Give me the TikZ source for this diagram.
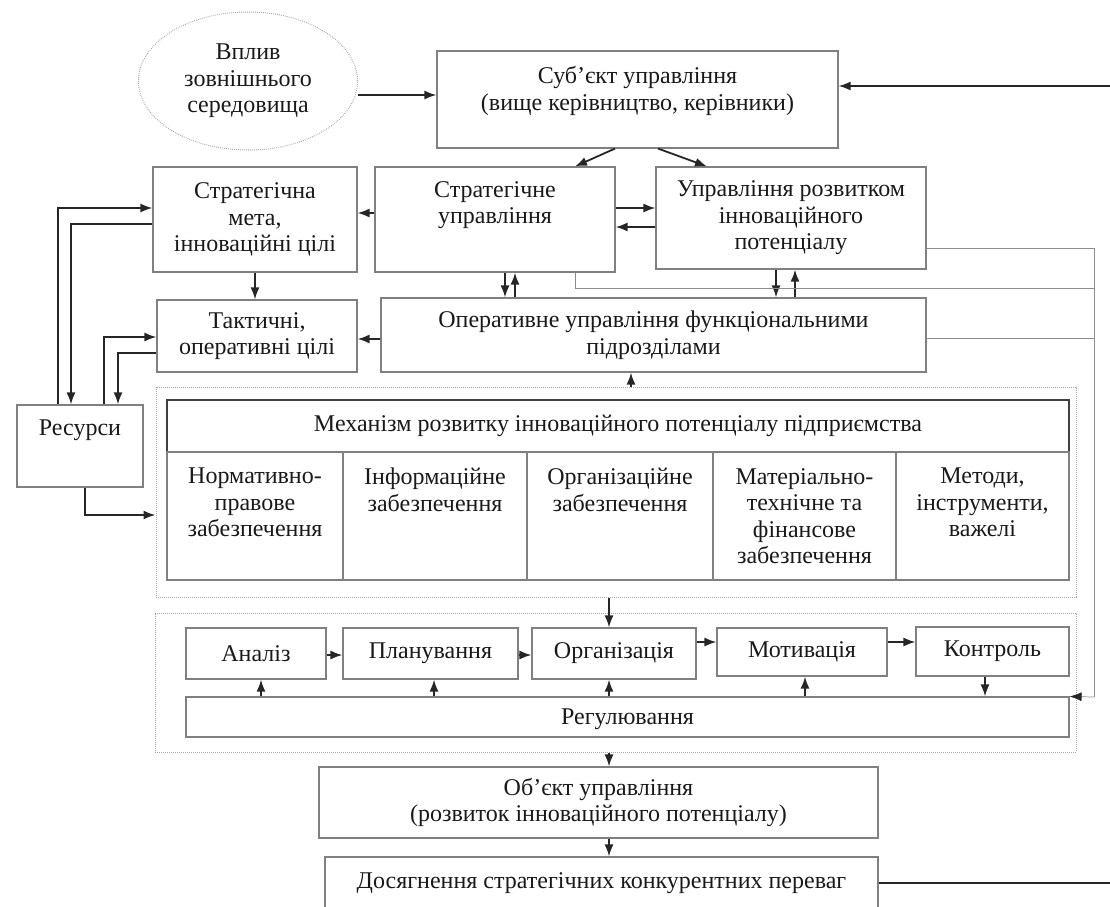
\documentclass[tikz,border=0pt]{standalone}
\usepackage{fontspec}
\setmainfont{Liberation Serif}
\usetikzlibrary{arrows.meta,shapes.geometric}

\begin{document}
\begin{tikzpicture}[x=1pt,y=-1pt,
  font=\fontsize{24}{26.5}\selectfont,
  every node/.style={text=black!90},
  box/.style={draw=black!50,line width=1.1pt,align=center,inner sep=0pt},
  txt/.style={align=center,inner sep=0pt},
  dotbox/.style={draw=black!35,dash pattern=on 0.8pt off 1.2pt,line width=1pt,inner sep=0pt},
  arr/.style={-{Latex[length=12pt,width=9pt]},line width=1.8pt,black!85},
  feed/.style={line width=0.7pt,black!45}]

\clip (0,0) rectangle (1110,906);

\node[ellipse,dotbox,minimum width=219pt,minimum height=138pt,align=center](v1) at (248,81) {Вплив\\зовнішнього\\середовища};

\node[box,minimum width=401pt,minimum height=97pt](v2) at (637.5,99.5) {};
\node[txt](t2) at (637.5,91) {Суб’єкт управління\\(вище керівництво, керівники)};

\node[box,minimum width=204pt,minimum height=105pt](v3) at (255,219.5) {Стратегічна\\мета,\\інноваційні цілі};
\node[box,minimum width=240pt,minimum height=105pt](v4) at (495,219.5) {};
\node[txt](t4) at (495,205) {Стратегічне\\управління};
\node[box,minimum width=270pt,minimum height=102pt](v5) at (791,218) {Управління розвитком\\інноваційного\\потенціалу};

\node[box,minimum width=200pt,minimum height=72pt](v6) at (257,336) {Тактичні,\\оперативні цілі};
\node[box,minimum width=545pt,minimum height=74pt](v7) at (653.5,335) {Оперативне управління функціональними\\підрозділами};

\node[box,minimum width=126pt,minimum height=82pt](v8) at (80,446) {};
\node[txt](t8) at (80,430) {Ресурси};

%MECHANISM
\node[dotbox,minimum width=920pt,minimum height=210pt](v9) at (616,492) {};
\node[box,draw=black!75,line width=1.6pt,minimum width=902pt,minimum height=52pt](v10) at (618,426) {Механізм розвитку інноваційного потенціалу підприємства};

\node[box,minimum width=176pt,minimum height=128pt](v11) at (255,516) {};
\node[box,minimum width=184pt,minimum height=128pt](v12) at (435,516) {};
\node[box,minimum width=186pt,minimum height=128pt](v13) at (620,516) {};
\node[box,minimum width=183pt,minimum height=128pt](v14) at (804.5,516) {};
\node[box,minimum width=173pt,minimum height=128pt](v15) at (982.5,516) {};

\node[txt,anchor=north](t11) at (255,468) {Нормативно-\\правове\\забезпечення};
\node[txt,anchor=north](t12) at (435,468) {Інформаційне\\забезпечення};
\node[txt,anchor=north](t13) at (620,468) {Організаційне\\забезпечення};
\node[txt,anchor=north](t14) at (804.5,468) {Матеріально-\\технічне та\\фінансове\\забезпечення};
\node[txt,anchor=north](t15) at (982.5,468) {Методи,\\інструменти,\\важелі};

%FUNCTIONS
\node[dotbox,minimum width=921pt,minimum height=139pt](v16) at (615.5,682.5) {};
\node[box,minimum width=140pt,minimum height=51pt](v17) at (256,653.5) {Аналіз};
\node[box,minimum width=175pt,minimum height=51pt](v18) at (430.5,653.5) {Планування};
\node[box,minimum width=164pt,minimum height=51pt](v19) at (614,653.5) {Організація};
\node[box,minimum width=170pt,minimum height=48pt](v20) at (802,652) {Мотивація};
\node[box,minimum width=153pt,minimum height=49pt](v21) at (992.5,651.5) {Контроль};
\node[box,minimum width=883pt,minimum height=40pt,text depth=0pt](v22) at (627.5,717) {Регулювання};

\node[box,minimum width=559pt,minimum height=71pt](v23) at (598.5,802.5) {Об’єкт управління\\(розвиток інноваційного потенціалу)};
\node[box,minimum width=553pt,minimum height=53pt](v24) at (601.5,883.5) {Досягнення стратегічних конкурентних переваг};

\coordinate (c1) at (1110,86);
\coordinate (c2) at (1110,883);
\coordinate (c3) at (1094,248);
\coordinate (c4) at (1094,288);
\coordinate (c5) at (1094,338);
\coordinate (c6) at (1094,697);

\draw[arr] (v1.east |- 0,95) -- (v2.west |- 0,95);
\draw[arr] (c1) -- (v2.east |- c1);
\draw[arr] (v2.south -| 615,0) -- (v4.north -| 575,0);
\draw[arr] (v2.south -| 658,0) -- (v5.north -| 707,0);

\draw[arr] (v4.east |- 0,208) -- (v5.west |- 0,208);
\draw[arr] (v5.west |- 0,227) -- (v4.east |- 0,227);
\draw[arr] (v4.west |- 0,213) -- (v3.east |- 0,213);
\draw[arr] (v3.south) -- (v3.south |- v6.north);

\draw[arr] (v4.south -| 505,0) -- (v7.north -| 505,0);
\draw[arr] (v7.north -| 515,0) -- (v4.south -| 515,0);
\draw[arr] (v5.south -| 776,0) -- (v7.north -| 776,0);
\draw[arr] (v7.north -| 795,0) -- (v5.south -| 795,0);
\draw[arr] (v7.west |- 0,339) -- (v6.east |- 0,339);
\draw[arr] (v9.north -| 631,0) -- (v7.south -| 631,0);

%RESOURCES
\draw[arr] (v8.north -| 58,0) |- (v3.west |- 0,208);
\draw[arr] (v3.west |- 0,224) -| (v8.north -| 71,0);
\draw[arr] (v8.north -| 104,0) |- (v6.west |- 0,337);
\draw[arr] (v6.west |- 0,353) -| (v8.north -| 118,0);
\draw[arr] (v8.south -| 85,0) |- (v9.west |- 0,515);

\draw[arr] (v9.south -| 609,0) -- (v19.north -| 609,0);
\draw[arr] (v17.east |- 0,655) -- (v18.west |- 0,655);
\draw[arr] (v18.east |- 0,655) -- (v19.west |- 0,655);
\draw[arr] (v19.east |- 0,642) -- (v20.west |- 0,642);
\draw[arr] (v20.east |- 0,642) -- (v21.west |- 0,642);

\draw[arr] (v22.north -| 261,0) -- (v17.south -| 261,0);
\draw[arr] (v22.north -| 434,0) -- (v18.south -| 434,0);
\draw[arr] (v22.north -| 609,0) -- (v19.south -| 609,0);
\draw[arr] (v22.north -| 805,0) -- (v20.south -| 805,0);
\draw[arr] (v21.south -| 985,0) -- (v22.north -| 985,0);

\draw[arr] (v16.south -| 609,0) -- (v23.north -| 609,0);
\draw[arr] (v23.south -| 609,0) -- (v24.north -| 609,0);
\draw[line width=1.8pt,black!85] (v24.east |- c2) -- (c2);

%FEEDBACK
\draw[feed] (v5.east |- c3) -- (c3) -- (c6);
\draw[feed] (v4.south -| 575,0) |- (c4);
\draw[feed] (v7.east |- c5) -- (c5);
\draw[feed,-{Latex[length=12pt,width=9pt,color=black!85]}] (c6) -- (v22.north east);

\end{tikzpicture}
\end{document}
